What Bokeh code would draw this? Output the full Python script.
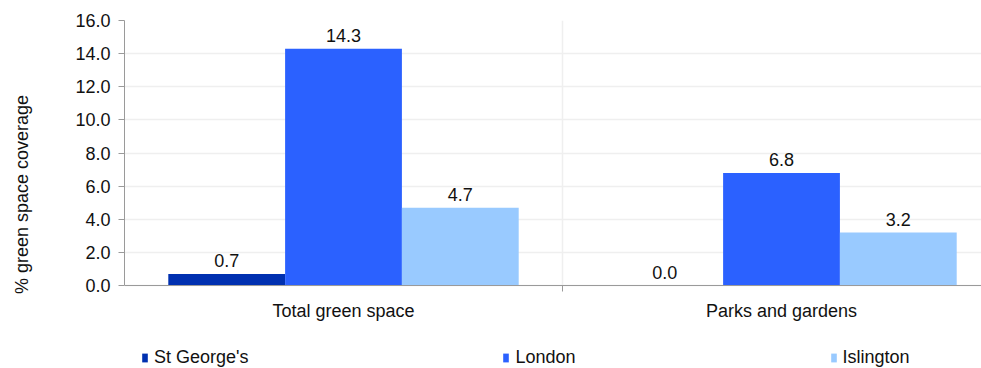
from bokeh.plotting import figure
from bokeh.models import ColumnDataSource, FixedTicker, Legend, LegendItem, Range1d, LabelSet, NumeralTickFormatter
from bokeh.core.properties import value
from bokeh.embed import file_html
from bokeh.resources import INLINE

categories = ["Total green space", "Parks and gardens"]
series = ["St George's", "London", "Islington"]
st_georges = [0.7, 0.0]
london = [14.3, 6.8]
islington = [4.7, 3.2]
colors = ["#0030B0", "#2B61FF", "#99CAFF"]
y_ticks = [0, 2, 4, 6, 8, 10, 12, 14, 16]

FONT = "Liberation Sans"
FS = "18px"
bar_w = 0.8 / 3
offsets = [-bar_w, 0.0, bar_w]

# frame: top at 20px, value 0 at 285px, bottom of frame at 368px
px_per_unit = (285 - 20) / 16.0
y_bottom = -(368 - 285) / px_per_unit
y_top = max(y_ticks)

p = figure(width=981, height=368, output_backend="svg", toolbar_location=None,
           x_range=Range1d(0, 1.9566), y_range=Range1d(y_bottom, y_top))
p.min_border_left = 124
p.min_border_right = 0
p.min_border_top = 20
p.min_border_bottom = 0
p.outline_line_color = None
p.background_fill_color = "white"
p.border_fill_color = "white"

# grid lines
p.ygrid.grid_line_color = "#efefef"
p.ygrid.grid_line_width = 1.5
p.xgrid.visible = False
bounds = [i for i in range(1, len(categories))]
p.segment(x0=bounds, y0=[0] * len(bounds), x1=bounds, y1=[y_top] * len(bounds),
          line_color="#efefef", line_width=1.5)

items = []
for name, vals, col, off in zip(series, [st_georges, london, islington], colors, offsets):
    xs = [i + 0.5 + off for i in range(len(categories))]
    src = ColumnDataSource(dict(x=xs, top=vals, lab=[f"{v:.1f}" for v in vals]))
    r = p.vbar(x="x", top="top", width=bar_w, source=src, fill_color=col, line_color=None)
    items.append(LegendItem(label=name, renderers=[r]))
    labels = LabelSet(x="x", y="top", text="lab", source=src, text_align="center",
                      text_baseline="bottom", y_offset=7, text_font=value(FONT),
                      text_font_size=value(FS), text_color=value("#111111"))
    p.add_layout(labels)

# axes
p.yaxis.ticker = FixedTicker(ticks=y_ticks)
p.yaxis.bounds = (0, y_top)
p.yaxis.formatter = NumeralTickFormatter(format="0.0")
p.yaxis.axis_label = "% green space coverage"
p.yaxis.axis_label_text_font = FONT
p.yaxis.axis_label_text_font_size = FS
p.yaxis.axis_label_text_font_style = "normal"
p.yaxis.axis_label_text_color = "#111111"
p.yaxis.axis_label_standoff = 40
p.yaxis.major_label_text_font = FONT
p.yaxis.major_label_text_font_size = FS
p.yaxis.major_label_text_color = "#111111"
p.yaxis.major_label_standoff = 8
p.yaxis.major_tick_out = 6
p.yaxis.major_tick_in = 0
p.yaxis.minor_tick_line_color = None
p.yaxis.axis_line_color = "#9a9a9a"
p.yaxis.major_tick_line_color = "#9a9a9a"

p.xaxis.fixed_location = 0
p.xaxis.ticker = FixedTicker(ticks=[0.5, 1.5], minor_ticks=[1.0])
p.xaxis.major_label_overrides = {0.5: categories[0], 1.5: categories[1]}
p.xaxis.major_label_text_font = FONT
p.xaxis.major_label_text_font_size = FS
p.xaxis.major_label_text_color = "#111111"
p.xaxis.major_tick_line_color = None
p.xaxis.major_label_standoff = 9
p.xaxis.minor_tick_in = 0
p.xaxis.minor_tick_out = 6
p.xaxis.minor_tick_line_color = "#9a9a9a"
p.xaxis.axis_line_color = "#9a9a9a"

legend = Legend(items=items, orientation="horizontal", location=(17, 0),
                spacing=254, padding=0, margin=0, glyph_width=7, glyph_height=11,
                label_standoff=6, label_text_font=FONT, label_text_font_size=FS,
                label_text_color="#111111", border_line_color=None,
                background_fill_alpha=0)
p.add_layout(legend)

open("out.html", "w").write(file_html(p, INLINE))
